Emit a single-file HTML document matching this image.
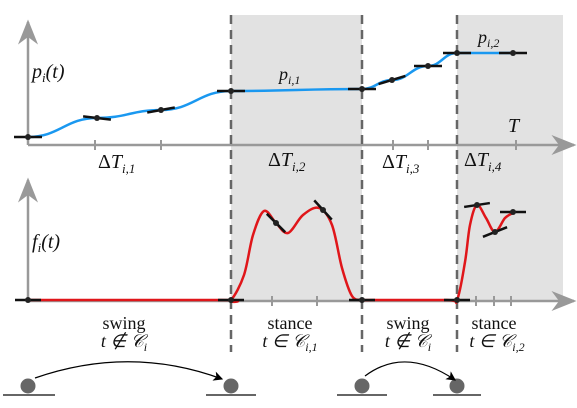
<!DOCTYPE html>
<html><head><meta charset="utf-8"><style>
body{margin:0;background:#fff}
svg text{font-family:"Liberation Serif",serif;fill:#111}
.it{font-style:italic}
</style></head><body>
<svg id="c" width="577" height="403" viewBox="0 0 577 403" xmlns="http://www.w3.org/2000/svg">
<defs><marker id="ga" markerWidth="10" markerHeight="8" refX="9" refY="4" orient="auto"><path d="M0,0L10,4L0,8L3,4Z" fill="#999"/></marker>
<marker id="ka" markerWidth="8" markerHeight="8" refX="7" refY="4" orient="auto"><path d="M0,0L8,4L0,8L2,4Z" fill="#000"/></marker></defs>
<g>
<rect x="231" y="15" width="131" height="287" fill="#e2e2e2"/>
<rect x="457" y="15" width="106" height="287" fill="#e2e2e2"/>
</g>
<g stroke="#999" stroke-width="2.5" fill="none">
<line x1="28" y1="145" x2="28" y2="22" marker-end="url(#ga)"/>
<line x1="28" y1="145" x2="574" y2="145" marker-end="url(#ga)"/>
<line x1="28" y1="301" x2="28" y2="180" marker-end="url(#ga)"/>
<line x1="28" y1="301" x2="574" y2="301" marker-end="url(#ga)"/>
</g>
<g id="ticks" stroke="#999" stroke-width="2"></g>
<g stroke="#666" stroke-width="2.5" stroke-dasharray="9,6">
<line x1="231" y1="15" x2="231" y2="352"/><line x1="362" y1="15" x2="362" y2="352"/><line x1="457" y1="15" x2="457" y2="352"/>
</g>
<path id="pcurve" fill="none" stroke="#1a98f0" stroke-width="2.5"/>
<path id="fcurve" fill="none" stroke="#e0161a" stroke-width="2.5"/>
<g id="knots"></g>
<g font-size="20">
<text x="32" y="78" class="it">p<tspan font-size="13" dy="4">i</tspan><tspan dy="-4">(t)</tspan></text>
<text x="32" y="248" class="it">f<tspan font-size="13" dy="4">i</tspan><tspan dy="-4">(t)</tspan></text>
<text x="279" y="80" class="it" font-size="18">p<tspan font-size="12" dy="4">i,1</tspan></text>
<text x="478" y="43" class="it" font-size="18">p<tspan font-size="12" dy="4">i,2</tspan></text>
<text x="508" y="132" class="it">T</text>
<text x="98" y="168">Δ<tspan class="it">T</tspan><tspan font-size="13" dy="5" class="it">i,1</tspan></text>
<text x="268" y="166">Δ<tspan class="it">T</tspan><tspan font-size="13" dy="5" class="it">i,2</tspan></text>
<text x="382" y="168">Δ<tspan class="it">T</tspan><tspan font-size="13" dy="5" class="it">i,3</tspan></text>
<text x="464" y="166">Δ<tspan class="it">T</tspan><tspan font-size="13" dy="5" class="it">i,4</tspan></text>
<g font-size="18" text-anchor="middle">
<text x="124" y="329">swing</text><text x="124" y="347" class="it">t ∉ 𝒞<tspan font-size="12" dy="4">i</tspan></text>
<text x="290" y="329">stance</text><text x="290" y="347" class="it">t ∈ 𝒞<tspan font-size="12" dy="4">i,1</tspan></text>
<text x="408" y="329">swing</text><text x="408" y="347" class="it">t ∉ 𝒞<tspan font-size="12" dy="4">i</tspan></text>
<text x="494" y="329">stance</text><text x="497" y="347" class="it">t ∈ 𝒞<tspan font-size="12" dy="4">i,2</tspan></text>
</g></g>
<g>
<g fill="#666"><circle cx="28" cy="386" r="7.5"/><circle cx="231" cy="386" r="7.5"/><circle cx="362" cy="386" r="7.5"/><circle cx="457" cy="386" r="7.5"/></g>
<g stroke="#666" stroke-width="2"><line x1="3" y1="395" x2="55" y2="395"/><line x1="206" y1="395" x2="256" y2="395"/><line x1="337" y1="395" x2="387" y2="395"/><line x1="433" y1="395" x2="481" y2="395"/></g>
<path d="M35,378 Q130,345 222,379" fill="none" stroke="#000" stroke-width="1.2" marker-end="url(#ka)"/>
<path d="M365,376 Q405,346 455,380" fill="none" stroke="#000" stroke-width="1.2" marker-end="url(#ka)"/>
</g>
</svg>
<script>
const pTimes=[28,97,161,231,362,392,428,457,513];
const pValues=[137,118,110,91,89,80,66,53,53];
const pSlopes=[0,0.12,-0.18,0,0,-0.3,0,0,0];
const fTimes=[28,221,231,244,253,264,276,288,303,319,332,342,352,362,372,447,457,465,470,477,486,495,505,513];
const fValues=[300,300,300,275,235,211,223,233,215,208,225,268,296,300,300,300,300,262,225,205,218,232,218,213];
const fKnotTimes=[28,231,276,323,362,457,477,495,513];
const fKnotValues=[300,300,223,210,300,300,205,232,212];
const fKnotSlopes=[0,0,1.0,1.1,0,0,-0.15,-0.4,0];
const pTicks=[95,161,393,428,516];
const fTicks=[272,317,476,494,511];
const NS='http://www.w3.org/2000/svg';
function mk(t,a,p){const e=document.createElementNS(NS,t);for(const k in a)e.setAttribute(k,a[k]);p.appendChild(e);return e;}
function smooth(xs,ys){let d='M'+xs[0]+','+ys[0];for(let i=0;i<xs.length-1;i++){const x0=xs[i],x1=xs[i+1],m=(x1-x0)/2.2;d+=` C${x0+m},${ys[i]} ${x1-m},${ys[i+1]} ${x1},${ys[i+1]}`;}return d;}
function catmull(xs,ys){let d='M'+xs[0]+','+ys[0];const n=xs.length;for(let i=0;i<n-1;i++){const i0=Math.max(0,i-1),i3=Math.min(n-1,i+2);
 const c1x=xs[i]+(xs[i+1]-xs[i0])/6,c1y=ys[i]+(ys[i+1]-ys[i0])/6,c2x=xs[i+1]-(xs[i3]-xs[i])/6,c2y=ys[i+1]-(ys[i3]-ys[i])/6;
 d+=` C${c1x},${c1y} ${c2x},${c2y} ${xs[i+1]},${ys[i+1]}`;}return d;}
document.getElementById('pcurve').setAttribute('d',smooth(pTimes,pValues));
document.getElementById('fcurve').setAttribute('d',catmull(fTimes,fValues));
const tk=document.getElementById('ticks');
pTicks.forEach(x=>{const l=mk('line',{x1:x,y1:140,x2:x,y2:150},tk);});
fTicks.forEach(x=>{const l=mk('line',{x1:x,y1:296,x2:x,y2:306},tk);});
const kn=document.getElementById('knots');
function knot(x,y,s,name,L){const dx=L/Math.sqrt(1+s*s);
 const l=mk('line',{x1:x-dx,y1:y-s*dx,x2:x+dx,y2:y+s*dx,stroke:'#111','stroke-width':2.5},kn);
 const c=mk('circle',{cx:x,cy:y,r:3,fill:'#222'},kn);}
pTimes.forEach((x,i)=>knot(x,pValues[i],pSlopes[i],'p',14));
fKnotTimes.forEach((x,i)=>knot(x,fKnotValues[i],fKnotSlopes[i],'f',13));
</script>
</body></html>
